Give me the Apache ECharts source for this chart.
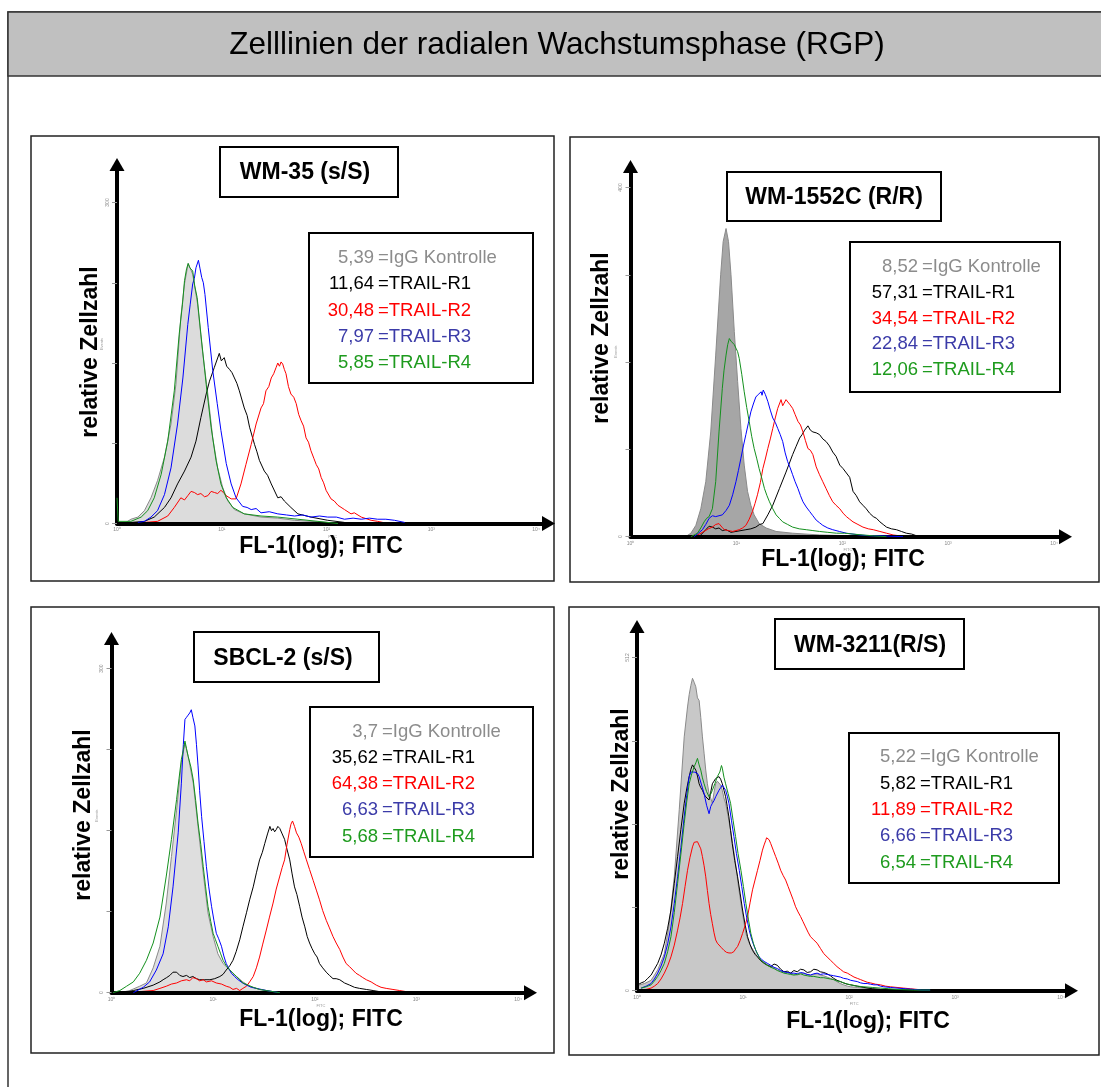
<!DOCTYPE html>
<html>
<head>
<meta charset="utf-8">
<script src="https://cdn.jsdelivr.net/npm/echarts@6/dist/echarts.min.js"></script>
<style>
  html, body { margin: 0; padding: 0; background: #fff; }
  #chart { width: 1101px; height: 1087px; }
</style>
</head>
<body>
<div id="chart"></div>
<script>
// ---------- Texts and tick labels ----------
const pageTitle = 'Zelllinien der radialen Wachstumsphase (RGP)';
const panelTitles = ['WM-35 (s/S)', 'WM-1552C (R/R)', 'SBCL-2 (s/S)', 'WM-3211(R/S)'];
const stainNames = ['IgG Kontrolle', 'TRAIL-R1', 'TRAIL-R2', 'TRAIL-R3', 'TRAIL-R4'];
const yAxisTitle = 'relative Zellzahl';
const xAxisTitle = 'FL-1(log); FITC';
// FL-1 on 1024 log channels, 256 channels per decade
const channelTicks = [0, 256, 512, 768, 1024];
const decadeLabels = ['10\u2070', '10\u00b9', '10\u00b2', '10\u00b3', '10\u2074'];
const eventMax = [300, 400, 300, 512];

// ---------- Mean fluorescence values (legend numbers) ----------
const wm35_mfi    = ['5,39', '11,64', '30,48', '7,97', '5,85'];
const wm1552c_mfi = ['8,52', '57,31', '34,54', '22,84', '12,06'];
const sbcl2_mfi   = ['3,7', '35,62', '64,38', '6,63', '5,68'];
const wm3211_mfi  = ['5,22', '5,82', '11,89', '6,66', '6,54'];

// ---------- Histograms: [channel, events] ----------
// WM-35
const wm35_igg = [[18,0],[34,4],[51,6],[67,12],[83,24],[99,40],[116,62],[132,93],[144,130],[156,193],[165,224],[174,243],[185,233],[197,205],[209,161],[222,121],[234,80],[246,52],[258,34],[271,21],[287,13],[311,9],[352,6],[393,5],[434,3],[474,2],[515,1],[556,0]];
const wm35_r1 = [[34,1],[67,2],[91,6],[116,15],[132,24],[148,37],[165,49],[181,62],[193,77],[205,99],[218,121],[226,133],[238,146],[250,159],[255,152],[262,155],[268,147],[275,144],[281,141],[287,136],[293,131],[299,124],[311,108],[318,101],[324,90],[336,74],[342,67],[348,59],[360,49],[368,45],[377,37],[393,24],[401,25],[409,21],[425,15],[442,9],[474,6],[515,3],[556,1]];
const wm35_r2 = [[67,1],[99,2],[124,7],[140,15],[156,24],[165,22],[173,26],[181,30],[189,29],[197,27],[205,28],[214,25],[222,26],[230,30],[238,29],[246,28],[254,31],[260,29],[267,26],[279,23],[291,23],[303,37],[315,55],[328,74],[340,93],[352,108],[358,112],[364,124],[371,128],[377,136],[383,140],[389,146],[393,150],[397,147],[401,151],[405,149],[409,144],[413,140],[419,128],[425,121],[432,118],[438,112],[444,102],[450,96],[456,91],[462,80],[468,76],[474,68],[481,61],[487,55],[493,51],[499,43],[505,38],[511,31],[523,23],[531,21],[540,17],[556,13],[572,9],[580,10],[597,6],[621,3],[637,2],[662,0]];
const wm35_r3 = [[51,1],[67,2],[83,6],[99,12],[116,27],[132,52],[148,93],[161,136],[173,186],[179,205],[185,224],[189,229],[193,239],[199,246],[203,238],[207,230],[211,225],[215,214],[223,183],[234,143],[245,112],[254,87],[267,56],[279,37],[291,24],[307,16],[318,15],[328,13],[340,14],[352,10],[372,11],[393,9],[414,8],[434,7],[454,8],[474,6],[495,7],[515,6],[536,6],[556,4],[577,5],[597,4],[617,5],[637,4],[657,4],[678,3],[703,1]];
const wm35_r4 = [[0,24],[3,2],[34,2],[59,6],[75,12],[91,24],[108,46],[124,77],[140,124],[152,177],[160,205],[165,227],[170,238],[174,243],[178,239],[185,236],[190,222],[196,211],[205,177],[218,130],[230,90],[242,59],[254,37],[267,24],[283,15],[311,9],[352,7],[393,6],[442,4],[491,2],[540,0]];

// WM-1552C
const wm1552c_igg = [[133,0],[146,4],[158,13],[170,32],[182,63],[194,120],[206,208],[218,300],[224,338],[231,353],[237,338],[243,300],[251,235],[259,178],[267,124],[275,82],[283,52],[291,36],[299,25],[311,15],[328,10],[352,6],[392,4],[457,2],[538,1]];
const wm1552c_r1 = [[166,0],[182,8],[190,12],[198,11],[206,9],[214,10],[222,7],[231,8],[243,5],[255,6],[267,7],[279,8],[291,9],[303,11],[312,14],[320,15],[332,25],[344,36],[360,55],[376,74],[392,94],[400,103],[409,113],[415,117],[421,122],[429,127],[435,122],[441,120],[449,119],[457,117],[465,112],[473,109],[481,104],[489,97],[497,92],[506,82],[514,78],[522,73],[530,68],[538,52],[546,47],[554,40],[562,36],[570,32],[578,27],[587,23],[595,21],[603,17],[611,14],[619,11],[631,9],[643,8],[655,6],[667,4],[680,3],[692,1],[716,0]];
const wm1552c_r2 = [[154,0],[166,3],[178,6],[188,9],[198,11],[206,14],[214,15],[221,11],[227,8],[237,7],[247,6],[255,7],[263,8],[271,10],[279,13],[287,20],[295,29],[301,38],[307,48],[314,62],[320,78],[326,89],[332,101],[338,112],[344,124],[350,136],[356,147],[360,152],[364,157],[368,150],[372,151],[376,157],[380,155],[386,151],[392,147],[398,140],[405,132],[411,128],[417,120],[423,110],[429,101],[435,99],[441,94],[449,80],[457,71],[465,63],[473,55],[481,47],[489,40],[497,36],[506,32],[514,27],[522,23],[530,20],[538,17],[550,14],[562,11],[575,9],[587,8],[603,6],[619,4],[635,2],[651,1],[684,0]];
const wm1552c_r3 = [[154,0],[164,4],[174,8],[182,14],[190,21],[198,24],[206,23],[214,24],[222,25],[231,30],[239,36],[247,48],[255,63],[261,76],[267,90],[273,104],[279,117],[285,130],[291,143],[297,152],[303,160],[309,163],[316,166],[318,162],[321,168],[326,163],[332,155],[338,145],[344,136],[350,131],[356,124],[362,117],[368,109],[374,96],[380,86],[386,79],[392,71],[398,63],[405,55],[411,47],[417,40],[425,34],[433,29],[441,24],[449,19],[457,16],[465,13],[477,10],[489,8],[505,6],[522,4],[538,3],[554,2],[578,1],[603,1],[659,0]];
const wm1552c_r4 = [[146,0],[162,4],[170,10],[178,17],[184,21],[190,23],[198,32],[206,63],[214,120],[222,170],[226,190],[231,208],[235,220],[239,227],[243,224],[247,225],[251,220],[255,216],[259,212],[263,204],[269,186],[275,166],[281,148],[287,132],[293,115],[299,101],[305,90],[311,78],[318,66],[324,55],[330,47],[336,40],[344,32],[352,25],[360,21],[368,17],[380,14],[392,11],[408,9],[425,8],[441,7],[457,6],[477,5],[498,4],[518,4],[538,3],[562,2],[587,1],[619,0]];

// SBCL-2
const sbcl2_igg = [[21,0],[46,2],[71,6],[88,9],[105,23],[122,43],[138,83],[151,126],[164,169],[176,213],[185,231],[193,219],[206,194],[218,154],[231,111],[243,74],[256,52],[268,36],[281,27],[298,21],[315,15],[331,10],[348,6],[373,3],[407,1],[440,0]];
const sbcl2_r1 = [[29,0],[55,2],[80,4],[105,7],[122,10],[130,12],[139,14],[147,16],[155,19],[164,19],[172,16],[180,15],[189,16],[197,14],[205,15],[214,13],[222,12],[235,12],[248,12],[260,13],[273,15],[281,17],[289,21],[298,25],[306,30],[314,38],[323,49],[331,61],[340,74],[348,86],[357,98],[365,111],[373,123],[380,130],[386,138],[393,147],[399,154],[403,150],[407,152],[411,149],[415,151],[419,154],[424,152],[430,147],[436,142],[442,133],[449,123],[455,110],[461,98],[467,91],[474,80],[480,70],[487,61],[493,52],[499,46],[505,41],[512,36],[518,33],[524,27],[532,23],[541,19],[549,16],[558,13],[566,13],[575,12],[587,9],[600,7],[612,5],[625,4],[642,3],[659,2],[675,1],[692,0]];
const sbcl2_r2 = [[71,1],[105,2],[122,4],[138,6],[151,8],[164,9],[176,11],[189,12],[197,11],[205,14],[214,13],[222,11],[231,12],[239,10],[252,11],[264,9],[277,8],[289,6],[298,5],[306,3],[315,4],[323,2],[331,4],[340,6],[348,10],[357,15],[365,23],[373,33],[381,45],[390,58],[398,70],[407,83],[415,96],[424,108],[430,116],[436,123],[442,137],[449,151],[452,156],[456,159],[461,154],[466,148],[472,144],[478,138],[484,131],[491,123],[499,114],[508,104],[516,95],[524,86],[532,76],[541,67],[549,60],[558,52],[566,46],[575,40],[583,33],[591,27],[600,24],[608,21],[616,18],[625,16],[633,14],[642,12],[654,10],[667,7],[679,5],[692,4],[709,3],[726,2],[742,1],[759,0]];
const sbcl2_r3 = [[55,0],[80,5],[96,10],[113,21],[130,36],[143,61],[155,98],[168,148],[176,194],[181,230],[185,253],[189,255],[193,257],[197,259],[201,262],[205,255],[210,247],[214,230],[218,210],[222,187],[227,163],[233,140],[239,117],[245,98],[252,80],[258,67],[264,55],[270,50],[277,43],[283,34],[289,27],[296,22],[302,18],[310,15],[319,12],[330,9],[340,7],[352,5],[365,4],[378,3],[390,2],[407,1],[424,0]];
const sbcl2_r4 = [[4,0],[21,2],[38,6],[55,10],[71,18],[88,30],[105,46],[122,70],[138,108],[151,142],[164,179],[170,198],[176,216],[181,225],[185,233],[189,226],[193,219],[200,209],[206,197],[212,178],[218,157],[225,137],[231,117],[237,98],[243,80],[250,66],[256,55],[262,49],[268,43],[275,36],[281,30],[289,25],[298,21],[306,18],[315,15],[323,12],[331,9],[344,7],[357,5],[373,3],[390,2],[407,1],[424,0]];

// WM-3211
const wm3211_igg = [[0,5],[6,9],[18,11],[34,16],[50,32],[66,57],[78,103],[90,175],[102,278],[114,390],[122,436],[126,455],[130,469],[134,480],[138,474],[142,467],[146,450],[150,446],[154,420],[158,390],[162,365],[166,339],[170,318],[174,303],[178,296],[182,288],[186,305],[190,318],[194,322],[198,324],[202,316],[206,308],[210,296],[214,288],[220,268],[226,247],[232,222],[238,196],[244,165],[251,134],[257,110],[263,88],[269,76],[275,68],[283,60],[291,52],[299,47],[307,43],[315,40],[323,37],[331,35],[339,32],[347,30],[355,29],[363,28],[371,27],[379,25],[387,24],[395,26],[403,27],[411,25],[419,24],[427,25],[435,26],[443,24],[451,23],[459,21],[467,19],[475,17],[483,14],[491,11],[499,9],[508,7],[516,6],[532,5],[548,4],[568,3],[588,2],[608,1],[628,1],[668,0],[708,0]];
const wm3211_r1 = [[2,9],[10,12],[18,14],[26,19],[34,24],[42,33],[50,42],[58,55],[66,73],[74,96],[82,124],[90,165],[98,206],[106,248],[114,288],[120,310],[126,329],[130,340],[134,347],[138,343],[142,339],[146,330],[150,318],[154,312],[158,308],[162,302],[166,298],[170,296],[174,293],[178,305],[182,318],[186,322],[190,326],[194,324],[198,329],[202,325],[206,318],[210,308],[214,298],[218,283],[222,267],[226,246],[230,226],[236,200],[243,175],[249,150],[255,124],[261,102],[267,83],[273,71],[279,62],[285,56],[291,52],[299,46],[307,42],[315,39],[323,37],[331,41],[339,39],[347,33],[355,29],[363,30],[371,27],[379,31],[387,29],[395,33],[403,32],[411,28],[419,29],[427,33],[435,32],[443,29],[451,28],[459,26],[467,23],[475,19],[483,16],[491,14],[499,12],[508,10],[516,9],[532,7],[548,5],[568,3],[588,2],[608,1],[628,1],[668,0],[708,0]];
const wm3211_r2 = [[10,1],[22,2],[34,4],[42,7],[50,11],[58,18],[66,27],[74,38],[82,52],[90,70],[98,93],[104,112],[110,134],[116,160],[122,185],[128,205],[134,221],[138,228],[142,231],[146,229],[150,226],[154,218],[158,206],[162,192],[166,175],[170,154],[174,134],[178,117],[182,103],[186,89],[190,78],[194,73],[198,70],[204,66],[210,62],[216,59],[222,58],[228,58],[234,60],[238,64],[243,68],[249,77],[255,88],[261,100],[267,114],[273,135],[279,155],[285,170],[291,185],[297,200],[303,216],[307,224],[311,231],[313,235],[316,237],[319,232],[323,226],[329,216],[335,206],[341,196],[347,185],[353,177],[359,170],[365,160],[371,150],[377,140],[383,129],[389,121],[395,114],[401,106],[407,98],[413,90],[419,83],[427,78],[435,73],[443,65],[451,57],[459,52],[467,47],[475,42],[483,37],[491,33],[499,29],[508,27],[516,24],[524,21],[532,19],[540,17],[548,15],[556,13],[564,12],[576,10],[588,9],[600,7],[612,6],[628,5],[644,4],[660,3],[676,2],[692,1],[708,1]];
const wm3211_r3 = [[10,4],[22,7],[34,11],[42,18],[50,27],[58,38],[66,52],[74,72],[82,98],[90,134],[98,175],[106,220],[114,267],[120,300],[126,329],[130,336],[134,339],[138,336],[142,339],[146,334],[150,329],[156,316],[162,303],[168,285],[174,272],[178,283],[182,288],[186,292],[190,298],[194,296],[198,308],[202,312],[206,316],[210,312],[214,308],[218,299],[222,288],[228,262],[234,237],[240,211],[247,185],[253,160],[259,134],[265,112],[271,93],[277,79],[283,68],[289,59],[295,52],[301,48],[307,45],[315,42],[323,39],[331,36],[339,34],[347,31],[355,29],[363,28],[371,27],[379,27],[387,26],[395,28],[403,27],[411,25],[419,24],[427,26],[435,27],[443,25],[451,26],[459,25],[467,24],[475,23],[483,22],[491,21],[499,19],[508,18],[516,16],[524,15],[532,14],[540,12],[548,11],[556,11],[564,10],[572,9],[580,9],[588,7],[596,6],[612,5],[628,4],[648,3],[668,2],[688,1],[708,1]];
const wm3211_r4 = [[10,4],[22,6],[34,9],[42,15],[50,22],[58,31],[66,42],[74,60],[82,83],[90,120],[98,165],[106,210],[114,257],[120,290],[126,318],[132,333],[138,344],[142,350],[146,357],[150,347],[154,339],[158,327],[162,318],[168,306],[174,298],[178,302],[182,308],[188,318],[194,329],[200,336],[204,346],[206,342],[210,328],[214,318],[220,303],[226,288],[232,262],[238,237],[244,211],[251,185],[257,160],[263,134],[269,110],[275,88],[281,73],[287,62],[293,54],[299,47],[307,43],[315,39],[323,36],[331,34],[339,31],[347,29],[355,27],[363,26],[371,25],[379,24],[387,25],[395,26],[403,24],[411,23],[419,22],[427,22],[435,21],[443,20],[451,20],[459,19],[467,18],[475,17],[483,15],[491,14],[503,11],[516,9],[532,7],[548,6],[568,5],[588,4],[608,3],[628,2],[668,1],[708,1]];

// ---------- Colours ----------
const lineColors   = ['#8a8a8a', '#000000', '#ff0000', '#0000ff', '#14901e'];
const legendColors = ['#8c8c8c', '#000000', '#ff0000', '#3b3ba8', '#1e9b1e'];
const FONT = '"Liberation Sans", Arial, Helvetica, sans-serif';

// ---------- Panel layout (pixels on the page) ----------
// axisX: vertical arrow / channel 0; x4: position of 10^4; tipX/tipY: arrow tips;
// base: event count 0; topPix: position of the top event tick.
const layouts = [
  { box: [31, 136, 554, 581], axisX: 117, x4: 536, tipX: 555, tipY: 158, base: 523.5, topPix: 202.5,
    tbox: [220, 147, 398, 197], tc: [305, 173],
    lbox: [309, 233, 533, 383], eqX: 378, row0: 258, rowStep: 26.3,
    ylab: [91, 352], xlab: [321, 547], fill: '#dcdcdc' },
  { box: [570, 137, 1099, 582], axisX: 630.5, x4: 1054, tipX: 1072, tipY: 160, base: 536.7, topPix: 187.5,
    tbox: [727, 172, 941, 221], tc: [834, 198],
    lbox: [850, 242, 1060, 392], eqX: 922, row0: 267, rowStep: 25.8,
    ylab: [602, 338], xlab: [843, 560], fill: '#a6a6a6' },
  { box: [31, 607, 554, 1053], axisX: 111.5, x4: 518, tipX: 537, tipY: 632, base: 992.7, topPix: 668.7,
    tbox: [194, 632, 379, 682], tc: [283, 659],
    lbox: [310, 707, 533, 857], eqX: 382, row0: 731.7, rowStep: 26.2,
    ylab: [84, 815], xlab: [321, 1020], fill: '#dedede' },
  { box: [569, 607, 1099, 1055], axisX: 637, x4: 1061, tipX: 1078, tipY: 620, base: 990.7, topPix: 657.5,
    tbox: [775, 619, 964, 669], tc: [870, 646],
    lbox: [849, 733, 1059, 883], eqX: 920, row0: 757.3, rowStep: 26.3,
    ylab: [622, 794], xlab: [868, 1022], fill: '#c8c8c8' }
];

const panelCurves = [
  [wm35_igg, wm35_r1, wm35_r2, wm35_r3, wm35_r4],
  [wm1552c_igg, wm1552c_r1, wm1552c_r2, wm1552c_r3, wm1552c_r4],
  [sbcl2_igg, sbcl2_r1, sbcl2_r2, sbcl2_r3, sbcl2_r4],
  [wm3211_igg, wm3211_r1, wm3211_r2, wm3211_r3, wm3211_r4]
];
const panelMfi = [wm35_mfi, wm1552c_mfi, sbcl2_mfi, wm3211_mfi];

const ARROW = 13;   // arrow head length
const grids = [], xAxes = [], yAxes = [], series = [];
const graphics = [];

// page frame and title band
graphics.push({ type: 'rect', shape: { x: 8, y: 12, width: 1100, height: 1090 },
  style: { fill: 'none', stroke: '#333', lineWidth: 1.5 }, z: 1 });
graphics.push({ type: 'rect', shape: { x: 8, y: 12, width: 1100, height: 64 },
  style: { fill: '#c0c0c0', stroke: '#333', lineWidth: 1.5 }, z: 1 });
graphics.push({ type: 'text', x: 557, y: 45, z: 2,
  style: { text: pageTitle, font: '31.5px ' + FONT, fill: '#000', align: 'center', verticalAlign: 'middle' } });

layouts.forEach(function (L, i) {
  const top = L.tipY + ARROW / 2;
  const right = L.tipX - ARROW / 2;
  const xMax = 1024 * (right - L.axisX) / (L.x4 - L.axisX);
  const yTop = eventMax[i];
  const yMax = yTop * (L.base - top) / (L.base - L.topPix);

  grids.push({ left: L.axisX, top: top, width: right - L.axisX, height: L.base - top, containLabel: false });

  xAxes.push({
    gridIndex: i, type: 'value', min: 0, max: xMax, z: 5,
    axisLine: { show: true, onZero: false, lineStyle: { color: '#000', width: 4 },
      symbol: ['none', 'triangle'], symbolSize: [15, ARROW] },
    axisTick: { show: false },
    splitLine: { show: false },
    axisLabel: { show: true, customValues: channelTicks, margin: 4, fontSize: 5, color: '#888',
      formatter: function (v) { return decadeLabels[Math.round(v / 256)] || ''; } },
    name: 'FITC', nameLocation: 'middle', nameGap: 11,
    nameTextStyle: { fontSize: 4, color: '#999' }
  });

  const tickVals = [0, yTop / 4, yTop / 2, yTop * 3 / 4, yTop];
  yAxes.push({
    gridIndex: i, type: 'value', min: 0, max: yMax, z: 5,
    axisLine: { show: true, onZero: false, lineStyle: { color: '#000', width: 4 },
      symbol: ['none', 'triangle'], symbolSize: [15, ARROW] },
    axisTick: { show: true, customValues: tickVals, length: 5, lineStyle: { color: '#999', width: 1 } },
    splitLine: { show: false },
    axisLabel: { show: true, customValues: [0, yTop], margin: 7, fontSize: 5, rotate: 90, color: '#888' },
    name: 'Events', nameLocation: 'middle', nameGap: 9, nameRotate: 90,
    nameTextStyle: { fontSize: 4, color: '#999' }
  });

  panelCurves[i].forEach(function (curve, j) {
    const s = {
      type: 'line', xAxisIndex: i, yAxisIndex: i, data: curve,
      symbol: 'none', showSymbol: false, smooth: false, silent: true, animation: false,
      lineStyle: { color: lineColors[j], width: 1 },
      z: j === 0 ? 1 : 2 + j
    };
    if (j === 0) s.areaStyle = { color: L.fill, opacity: 1 };
    series.push(s);
  });

  // panel frame
  graphics.push({ type: 'rect', z: 1,
    shape: { x: L.box[0], y: L.box[1], width: L.box[2] - L.box[0], height: L.box[3] - L.box[1] },
    style: { fill: 'none', stroke: '#222', lineWidth: 1.5 } });
  // panel title box
  graphics.push({ type: 'rect', z: 10,
    shape: { x: L.tbox[0], y: L.tbox[1], width: L.tbox[2] - L.tbox[0], height: L.tbox[3] - L.tbox[1] },
    style: { fill: '#fff', stroke: '#000', lineWidth: 2 } });
  graphics.push({ type: 'text', z: 11, x: L.tc[0], y: L.tc[1],
    style: { text: panelTitles[i], font: 'bold 23px ' + FONT, fill: '#000', align: 'center', verticalAlign: 'middle' } });
  // legend box
  graphics.push({ type: 'rect', z: 10,
    shape: { x: L.lbox[0], y: L.lbox[1], width: L.lbox[2] - L.lbox[0], height: L.lbox[3] - L.lbox[1] },
    style: { fill: '#fff', stroke: '#000', lineWidth: 2 } });
  stainNames.forEach(function (nm, j) {
    const y = L.row0 + j * L.rowStep;
    graphics.push({ type: 'text', z: 11, x: L.eqX - 4, y: y,
      style: { text: panelMfi[i][j], font: '18.5px ' + FONT, fill: legendColors[j], align: 'right', verticalAlign: 'middle' } });
    graphics.push({ type: 'text', z: 11, x: L.eqX, y: y,
      style: { text: '=' + nm, font: '18.5px ' + FONT, fill: legendColors[j], align: 'left', verticalAlign: 'middle' } });
  });
  // axis titles
  graphics.push({ type: 'text', z: 11, x: L.ylab[0], y: L.ylab[1], rotation: Math.PI / 2,
    style: { text: yAxisTitle, font: 'bold 23px ' + FONT, fill: '#000', align: 'center', verticalAlign: 'middle' } });
  graphics.push({ type: 'text', z: 11, x: L.xlab[0], y: L.xlab[1],
    style: { text: xAxisTitle, font: 'bold 23px ' + FONT, fill: '#000', align: 'center', verticalAlign: 'middle' } });
});

const chart = echarts.init(document.getElementById('chart'), null, { renderer: 'canvas' });
chart.setOption({
  backgroundColor: '#fff',
  animation: false,
  grid: grids,
  xAxis: xAxes,
  yAxis: yAxes,
  series: series,
  graphic: { elements: graphics }
});
</script>
</body>
</html>
